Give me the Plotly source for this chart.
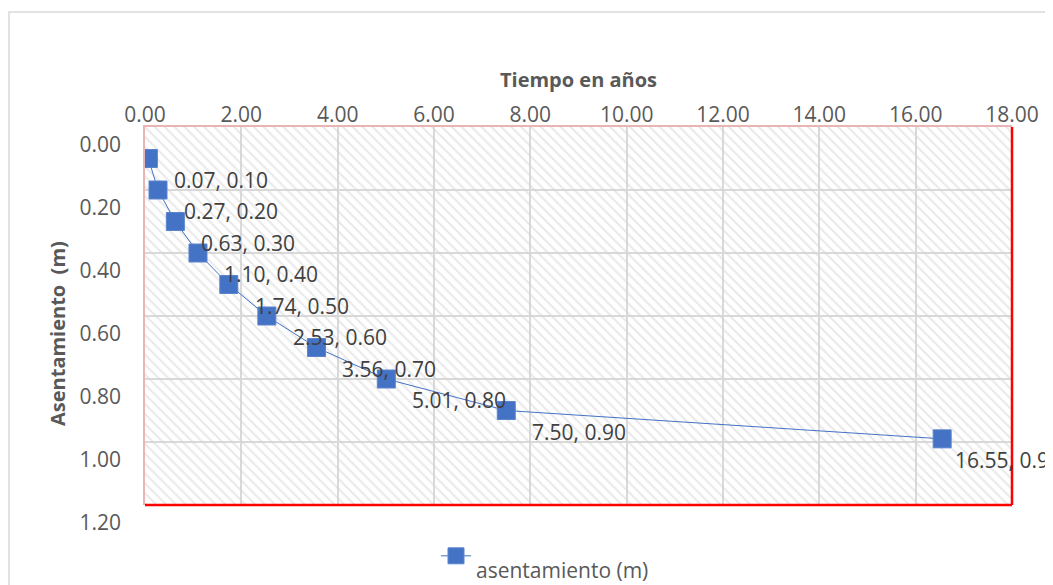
import plotly.graph_objects as go

# data
tiempo = [0.07, 0.27, 0.63, 1.10, 1.74, 2.53, 3.56, 5.01, 7.50, 16.55]
asentamiento = [0.10, 0.20, 0.30, 0.40, 0.50, 0.60, 0.70, 0.80, 0.90, 0.99]
etiquetas = [f"{t:.2f}, {a:.2f}" for t, a in zip(tiempo, asentamiento)]

x_ticks = [0, 2, 4, 6, 8, 10, 12, 14, 16, 18]
x_labels = [f"{v:.2f}" for v in x_ticks]
y_ticks = [0.0, 0.2, 0.4, 0.6, 0.8, 1.0, 1.2]
y_labels = [f"{v:.2f}" for v in y_ticks]

X_RANGE = [0, 18]
Y_RANGE = [0, 1.2]

# page body has an 8px margin, so the figure is 8px smaller than the window
W, H = 1045, 577
L, R, T, B = 137, 41, 119, 80
FONT = "Open Sans, Liberation Sans, sans-serif"
AZUL = "#4472C4"
GRIS = "#595959"


# convert reference-window pixels to paper coordinates
def px_x(p):
    return (p - 8 - L) / (W - L - R)


def px_y(p):
    return (H - B - (p - 8)) / (H - T - B)


fig = go.Figure()

# hatched plot-area background
fig.add_trace(
    go.Scatter(
        x=[X_RANGE[0], X_RANGE[1], X_RANGE[1], X_RANGE[0], X_RANGE[0]],
        y=[Y_RANGE[0], Y_RANGE[0], Y_RANGE[1], Y_RANGE[1], Y_RANGE[0]],
        fill="toself",
        mode="none",
        fillcolor="rgba(0,0,0,0)",
        fillpattern=dict(shape="\\", fgcolor="#d4d4d4", bgcolor="rgba(0,0,0,0)", size=7, solidity=0.3),
        hoverinfo="skip",
        showlegend=False,
    )
)

fig.add_trace(
    go.Scatter(
        x=tiempo,
        y=asentamiento,
        mode="lines+markers",
        line=dict(color=AZUL, width=1),
        marker=dict(symbol="square", size=18, color=AZUL, line=dict(color="#5a84cc", width=1)),
        name="<br>asentamiento (m)",
    )
)

# data labels (Excel style "x, y"); the last one is pulled left like Excel does
for i, (t, a, txt) in enumerate(zip(tiempo, asentamiento, etiquetas)):
    fig.add_annotation(
        x=t, y=a, text=txt, showarrow=False,
        xanchor="left", yanchor="middle",
        xshift=11 if i == len(tiempo) - 1 else 24, yshift=-21,
        font=dict(family=FONT, size=21, color="#404040"),
    )

# y axis title, aligned with the shifted tick labels
fig.add_annotation(
    x=px_x(57), y=px_y(334), xref="paper", yref="paper",
    xanchor="center", yanchor="middle",
    text="<b>Asentamiento  (m)</b>", textangle=-90, showarrow=False,
    font=dict(family=FONT, size=20, color=GRIS),
)

# red right / bottom edges of the plot area
fig.add_shape(type="line", xref="paper", yref="paper", x0=1, x1=1, y0=0, y1=1,
              line=dict(color="#ff0000", width=2.5), layer="above")
fig.add_shape(type="line", xref="paper", yref="paper", x0=0, x1=1, y0=0, y1=0,
              line=dict(color="#ff0000", width=2.5), layer="above")
# outer chart border
fig.add_shape(type="rect", xref="paper", yref="paper",
              x0=px_x(9), x1=px_x(1080), y0=px_y(610), y1=px_y(12),
              line=dict(color="#d9d9d9", width=1.5))

fig.update_layout(
    width=W, height=H,
    margin=dict(l=L, r=R, t=T, b=B, autoexpand=False),
    paper_bgcolor="white",
    plot_bgcolor="white",
    font=dict(family=FONT, size=21, color=GRIS),
    showlegend=True,
    legend=dict(
        x=px_x(436), y=px_y(522), xanchor="left", yanchor="top",
        font=dict(family=FONT, size=21, color=GRIS),
        bgcolor="rgba(0,0,0,0)",
    ),
)

fig.update_xaxes(
    side="top", range=X_RANGE, tickvals=x_ticks, ticktext=x_labels,
    showgrid=True, gridcolor="#d9d9d9", gridwidth=1.5, zeroline=False,
    showline=True, linecolor="#e8b4b4", linewidth=1.5, ticks="",
    ticklabelstandoff=-5,
    title=dict(text="<b>Tiempo en años</b>", font=dict(family=FONT, size=20, color=GRIS), standoff=7),
    tickfont=dict(family=FONT, size=21, color=GRIS),
)
fig.update_yaxes(
    range=[Y_RANGE[1], Y_RANGE[0]], tickvals=y_ticks, ticktext=y_labels,
    showgrid=True, gridcolor="#d9d9d9", gridwidth=1.5, zeroline=False,
    showline=True, linecolor="#e8b4b4", linewidth=1.5, ticks="",
    ticklabelshift=-18, ticklabelstandoff=18,
    tickfont=dict(family=FONT, size=21, color=GRIS),
)

fig.write_html("out.html")
